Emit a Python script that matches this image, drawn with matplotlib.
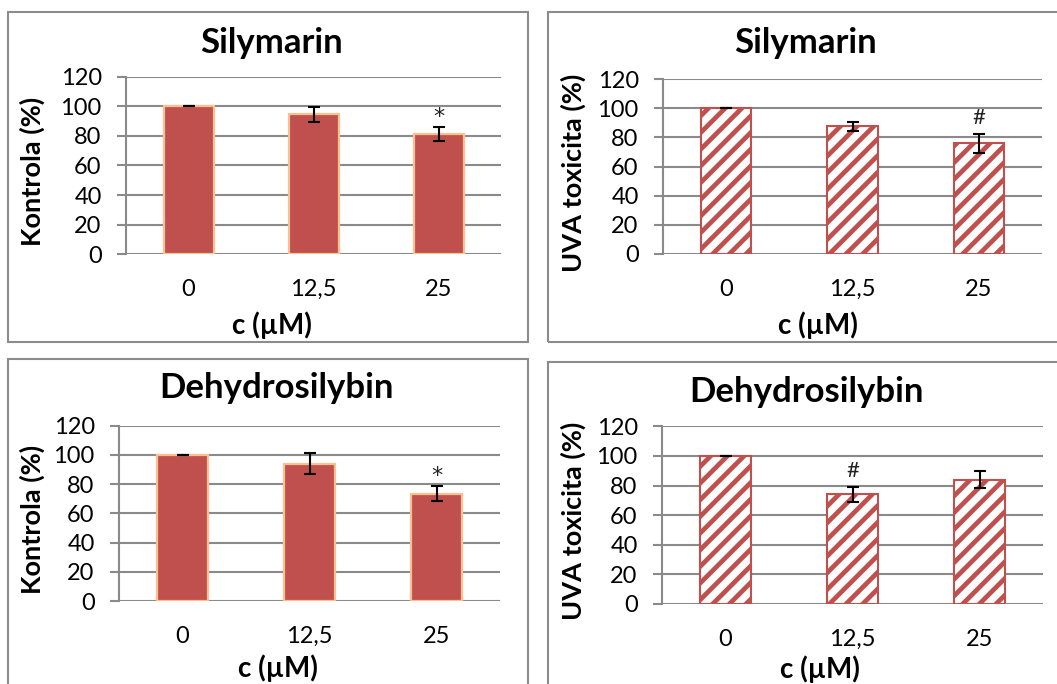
import matplotlib
matplotlib.use("Agg")
import matplotlib.pyplot as plt
from matplotlib.patches import Rectangle

# ---- data -------------------------------------------------------------
concentrations = ["0", "12,5", "25"]

sil_kontrola = [100, 94.5, 81]
sil_kontrola_err = [0, 4.9, 4.7]
sil_kontrola_sig = ["", "", "*"]

sil_uva = [100, 87.5, 76]
sil_uva_err = [0, 3.2, 6.5]
sil_uva_sig = ["", "", "#"]

dehy_kontrola = [100, 94, 73.5]
dehy_kontrola_err = [0, 7, 5.2]
dehy_kontrola_sig = ["", "", "*"]

dehy_uva = [100, 74, 84]
dehy_uva_err = [0, 5, 5.7]
dehy_uva_sig = ["", "#", ""]

yticks = [0, 20, 40, 60, 80, 100, 120]

# ---- style ------------------------------------------------------------
plt.rcParams["font.family"] = ["Lato", "DejaVu Sans"]
plt.rcParams["hatch.linewidth"] = 3.4

RED = "#C0504D"
ORANGE_EDGE = "#FAC090"
GRID = "#8A8A8A"
FRAME = "#8C8C8C"

W, H = 1057, 684
fig = plt.figure(figsize=(W / 100, H / 100), dpi=100)


def fx(px):
    return px / W


def fy(py):
    return 1 - py / H


def frame(x0, y0, x1, y1):
    r = Rectangle((fx(x0), fy(y1)), fx(x1) - fx(x0), fy(y0) - fy(y1),
                  transform=fig.transFigure, fill=False, edgecolor=FRAME,
                  linewidth=1.5, clip_on=False)
    fig.patches.append(r)


def panel(box, frame_box, values, errs, sig, title, title_xy, ylabel,
          ylabel_x, xlabel_xy, hatched):
    x0, ytop, x1, ybot = box
    frame(*frame_box)
    ax = fig.add_axes([fx(x0), fy(ybot), fx(x1) - fx(x0), fy(ytop) - fy(ybot)])
    pos = list(range(len(concentrations)))
    if hatched:
        ax.bar(pos, values, width=0.4, facecolor="white", edgecolor=RED,
               hatch="//", linewidth=1.5, zorder=3)
    else:
        ax.bar(pos, values, width=0.4, color=RED, edgecolor=ORANGE_EDGE,
               linewidth=1.6, zorder=3)
    ax.errorbar(pos, values, yerr=errs, fmt="none", ecolor="black",
                elinewidth=1.5, capsize=4.3, capthick=1.5, zorder=4)
    for p, v, e, s in zip(pos, values, errs, sig):
        if s == "*":
            ax.annotate(s, (p, v + e), xytext=(0, 0), textcoords="offset points",
                        ha="center", va="bottom", fontsize=16, color="#222222",
                        family=["DejaVu Sans"])
        elif s:
            ax.annotate(s, (p, v + e), xytext=(0, 4), textcoords="offset points",
                        ha="center", va="bottom", fontsize=16, color="#222222")
    ax.set_xlim(-0.5, 2.5)
    ax.set_ylim(0, 120)
    ax.set_yticks(yticks)
    ax.set_xticks(pos)
    ax.set_xticklabels(concentrations)
    ax.grid(axis="y", color=GRID, linewidth=1.5)
    ax.set_axisbelow(True)
    for side in ("top", "right", "bottom"):
        ax.spines[side].set_visible(False)
    ax.spines["left"].set_color(GRID)
    ax.spines["left"].set_linewidth(1.5)
    ax.tick_params(axis="y", length=6.5, width=1.5, color=GRID, pad=11,
                   labelsize=17)
    ax.tick_params(axis="x", length=0, pad=18, labelsize=17)
    fig.text(fx(title_xy[0]), fy(title_xy[1]), title, ha="center",
             va="center", fontsize=25, fontweight="bold")
    fig.text(fx(ylabel_x), fy((ytop + ybot) / 2 + 6), ylabel, ha="center",
             va="center", rotation=90, fontsize=19.5, fontweight="bold")
    fig.text(fx(xlabel_xy[0]), fy(xlabel_xy[1]), "c (\u00b5M)", ha="center",
             va="center", fontsize=20, fontweight="bold")
    return ax


panel((126, 76.5, 501, 254.3), (8, 12, 528, 342),
      sil_kontrola, sil_kontrola_err, sil_kontrola_sig,
      "Silymarin", (272, 43), "Kontrola (%)", 32, (272, 325), False)
panel((663, 79, 1042, 254), (548, 12, 1070, 342),
      sil_uva, sil_uva_err, sil_uva_sig,
      "Silymarin", (806, 43), "UVA toxicita (%)", 573, (818, 325), True)
panel((119, 425.7, 500, 601), (8, 359, 528, 700),
      dehy_kontrola, dehy_kontrola_err, dehy_kontrola_sig,
      "Dehydrosilybin", (277, 388), "Kontrola (%)", 32, (278, 668), False)
panel((662, 426.3, 1043, 604), (548, 362, 1070, 700),
      dehy_uva, dehy_uva_err, dehy_uva_sig,
      "Dehydrosilybin", (806, 392), "UVA toxicita (%)", 573, (820, 669), True)

fig.savefig("out.png", dpi=100, facecolor="white")
